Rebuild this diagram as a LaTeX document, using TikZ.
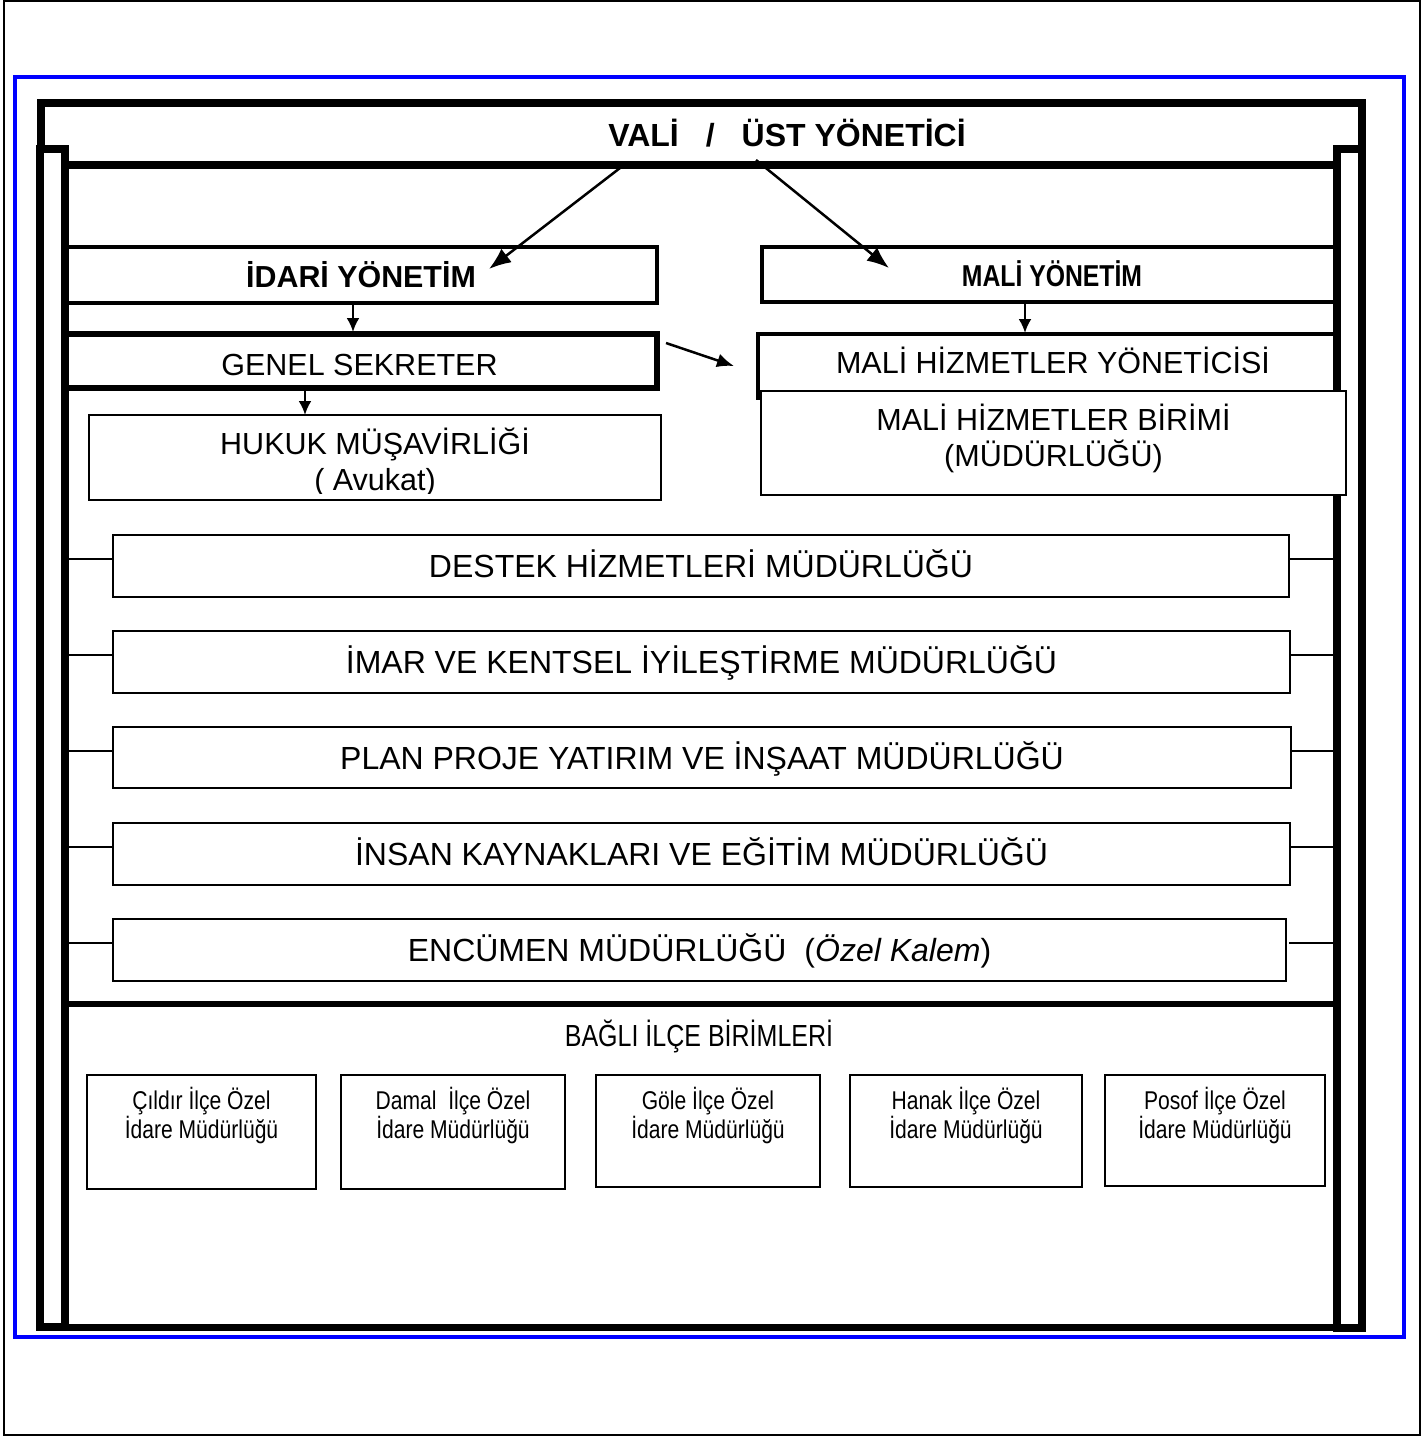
\documentclass[tikz,border=0pt]{standalone}
\usepackage{fontspec}
\setmainfont{Liberation Sans}
\newfontfamily\narrowfont[FakeStretch=0.82]{Liberation Sans}
\usetikzlibrary{arrows.meta}
\begin{document}
\begin{tikzpicture}[x=1pt,y=-1pt,
  bx/.style={draw, rectangle, inner sep=0pt, outer sep=0pt},
  frame/.style={bx, line width=8pt},
  dept/.style={bx, line width=2.5pt, font=\fontsize{32}{38}\selectfont, text height=23pt, text depth=0pt},
  ilce/.style={bx, line width=2.5pt},
  txt/.style={inner sep=0pt, outer sep=0pt, align=center, text depth=0pt},
  t30/.style={txt, font=\fontsize{30.5}{36}\selectfont, text height=22pt},
  tilce/.style={txt, font=\narrowfont\fontsize{25.7}{29}\selectfont, text height=18.4pt},
  conn/.style={line width=2pt},
  bigarr/.style={line width=2.5pt, -{Latex[length=22pt,width=17pt]}},
  smallarr/.style={line width=2.5pt, -{Latex[length=14pt,width=13pt]}},
]
\useasboundingbox (0,0) rectangle (1421,1436);
\fill[white] (0,0) rectangle (1421,1436);
% page frames
\draw[line width=2pt] (4,1) rectangle (1419.5,1435);
\draw[blue, line width=4pt] (15,77) rectangle (1404,1337);

% top box
\node[frame, minimum width=1321pt, minimum height=62pt] (valibox) at (701.5,134) {};
% columns
\node[frame, fill=white, minimum width=24.5pt, minimum height=1178pt] (lcol) at (52.25,738) {};
\node[frame, fill=white, minimum width=25pt, minimum height=1179pt] (rcol) at (1349.5,738.5) {};
% main box lines
\coordinate (topL) at (64.5,165); \coordinate (topR) at (1337,165);
\draw[line width=7pt] (topL) -- (topR);
\coordinate (sepL) at (64.5,1004); \coordinate (sepR) at (1337,1004);
\draw[line width=6pt] (sepL) -- (sepR);
\coordinate (botL) at (64.5,1327.5); \coordinate (botR) at (1337,1327.5);
\draw[line width=7pt] (botL) -- (botR);

\node[txt, font=\bfseries\fontsize{32}{38}\selectfont, text height=23pt] (valit) at (787,134.5)
  {VALİ\hspace{27pt}/\hspace{27pt}ÜST YÖNETİCİ};

% management boxes
\node[bx, line width=4pt, minimum width=592.5pt, minimum height=56pt] (idari) at (360.75,275) {};
\node[txt, font=\bfseries\fontsize{30.4}{36}\selectfont, text height=22pt] (idarit) at (361,276) {İDARİ YÖNETİM};
\node[bx, line width=4pt, minimum width=575pt, minimum height=55pt] (maliy) at (1049.5,274.5) {};
\node[txt, font=\narrowfont\bfseries\fontsize{30.2}{36}\selectfont, text height=21.6pt] (maliyt) at (1052,276) {MALİ YÖNETİM};

\node[bx, line width=6pt, minimum width=592.5pt, minimum height=54pt] (genel) at (360.75,361) {};
\node[t30] (genelt) at (359.5,364) {GENEL SEKRETER};

\node[bx, line width=4pt, minimum width=579pt, minimum height=64pt] (mhy) at (1047.5,366) {};
\node[t30] (mhyt) at (1053,362) {MALİ HİZMETLER YÖNETİCİSİ};
\node[bx, fill=white, line width=2.2pt, minimum width=585pt, minimum height=104pt] (mhb) at (1053.5,443) {};
\node[t30] (mhbt) at (1053.5,455.5) {MALİ HİZMETLER BİRİMİ\\(MÜDÜRLÜĞÜ)};

\node[bx, line width=2.2pt, minimum width=572pt, minimum height=85pt] (hukuk) at (375,457.5) {};
\begin{scope}
\clip (89,415) rectangle (661,493);
\node[t30] (hukukt) at (375,479.5) {HUKUK MÜŞAVİRLİĞİ\\( Avukat)};
\end{scope}

% arrows
\draw[bigarr] ([xshift=-81.5pt,yshift=-3pt]valibox.south) -- ([xshift=128.25pt,yshift=6pt]idari.center);
\draw[bigarr] ([xshift=54.5pt,yshift=5pt]valibox.south) -- ([xshift=-160.5pt,yshift=6.5pt]maliy.center);
\draw[smallarr] ([xshift=-7.75pt]idari.south) -- ([xshift=-7.75pt,yshift=2pt]genel.north);
\draw[smallarr] ([xshift=-24.5pt]maliy.south) -- ([xshift=-22.5pt,yshift=1pt]mhy.north);
\draw[smallarr] ([xshift=-55.75pt]genel.south) -- ([xshift=-70pt]hukuk.north);
\draw[line width=2.5pt, -{Latex[length=17pt,width=14pt]}] ([xshift=9pt,yshift=18pt]genel.east) -- ([xshift=-24pt]mhy.west);

% departments
\node[dept, minimum width=1176pt, minimum height=62pt] (destek) at (701,566) {DESTEK HİZMETLERİ MÜDÜRLÜĞÜ};
\node[dept, minimum width=1177pt, minimum height=62pt] (imar) at (701.5,662) {İMAR VE KENTSEL İYİLEŞTİRME MÜDÜRLÜĞÜ};
\node[dept, minimum width=1178pt, minimum height=61pt] (plan) at (702,757.5) {PLAN PROJE YATIRIM VE İNŞAAT MÜDÜRLÜĞÜ};
\node[dept, minimum width=1177pt, minimum height=62pt] (insan) at (701.5,854) {İNSAN KAYNAKLARI VE EĞİTİM MÜDÜRLÜĞÜ};
\node[dept, minimum width=1173pt, minimum height=62pt] (encumen) at (699.5,950) {ENCÜMEN MÜDÜRLÜĞÜ\hspace{18pt}(\textit{Özel Kalem})};

\coordinate (dl1) at (66,559);  \coordinate (dr1) at (1335,559);
\coordinate (dl2) at (66,655);  \coordinate (dr2) at (1335,655);
\coordinate (dl3) at (66,751);  \coordinate (dr3) at (1335,751);
\coordinate (dl4) at (66,847);  \coordinate (dr4) at (1335,847);
\coordinate (dl5) at (66,943);  \coordinate (dr5) at (1335,943);
\draw[conn] (dl1) -- (dl1 -| destek.west);  \draw[conn] (destek.east |- dr1) -- (dr1);
\draw[conn] (dl2) -- (dl2 -| imar.west);    \draw[conn] (imar.east |- dr2) -- (dr2);
\draw[conn] (dl3) -- (dl3 -| plan.west);    \draw[conn] (plan.east |- dr3) -- (dr3);
\draw[conn] (dl4) -- (dl4 -| insan.west);   \draw[conn] (insan.east |- dr4) -- (dr4);
\draw[conn] (dl5) -- (dl5 -| encumen.west); \draw[conn] ([xshift=3pt]encumen.east |- dr5) -- (dr5);

% bottom section
\node[txt, font=\narrowfont\fontsize{30.5}{36}\selectfont, text height=21.8pt] (bagli) at (699,1036) {BAĞLI İLÇE BİRİMLERİ};

\node[ilce, minimum width=229pt, minimum height=114pt] (cildir) at (201.5,1132) {};
\node[ilce, minimum width=224pt, minimum height=114pt] (damal) at (453,1132) {};
\node[ilce, minimum width=224pt, minimum height=112pt] (gole) at (708,1131) {};
\node[ilce, minimum width=232pt, minimum height=112pt] (hanak) at (966,1131) {};
\node[ilce, minimum width=220pt, minimum height=111pt] (posof) at (1215,1130.5) {};
\node[tilce] (cildirt) at (201.5,1129) {Çıldır İlçe Özel\\İdare Müdürlüğü};
\node[tilce] (damalt) at (453,1129) {Damal\ \ İlçe Özel\\İdare Müdürlüğü};
\node[tilce] (golet) at (708,1129) {Göle İlçe Özel\\İdare Müdürlüğü};
\node[tilce] (hanakt) at (966,1129) {Hanak İlçe Özel\\İdare Müdürlüğü};
\node[tilce] (posoft) at (1215,1129) {Posof İlçe Özel\\İdare Müdürlüğü};
\end{tikzpicture}
\end{document}
